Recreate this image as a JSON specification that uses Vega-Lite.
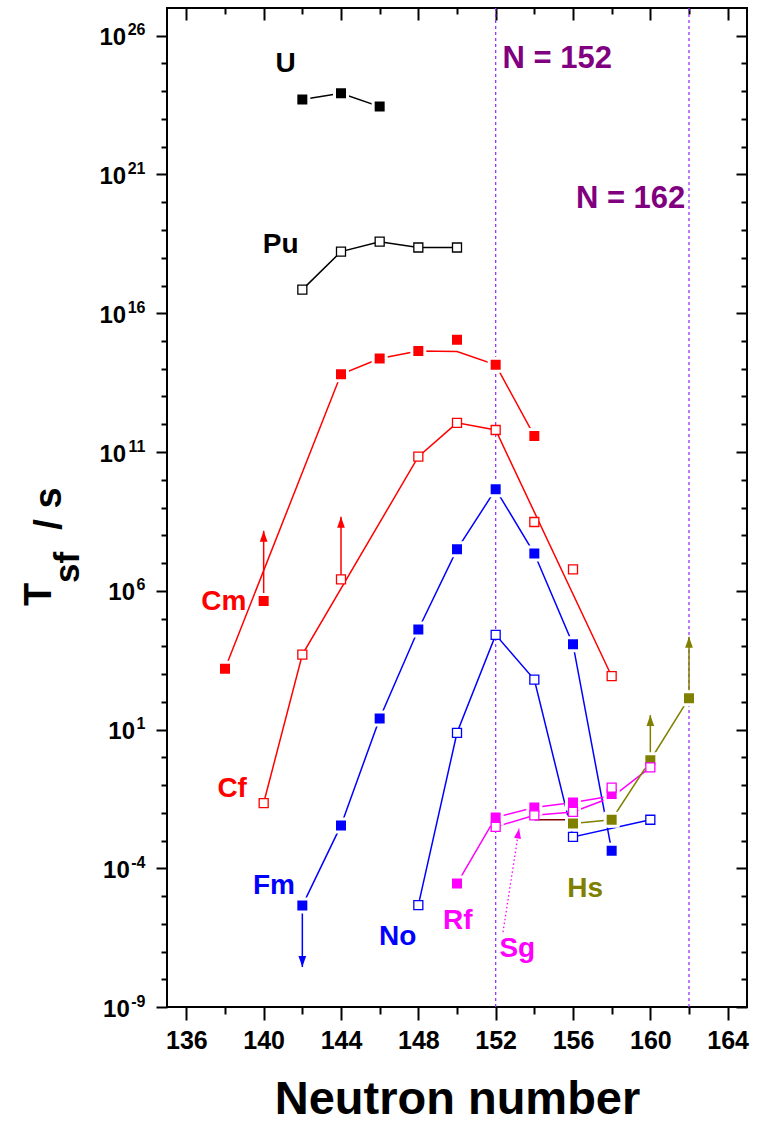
{
  "$schema": "https://vega.github.io/schema/vega-lite/v6.json",
  "width": 580,
  "height": 999,
  "autosize": {"type": "none"},
  "padding": {"left": 167, "top": 8, "right": 18, "bottom": 115},
  "background": "white",
  "datasets": {
    "vlines": [{"N": 152}, {"N": 162}],
    "lines": [
      {"el": "U", "N": 142, "T": 5.0e23}, {"el": "U", "N": 144, "T": 8.5e23}, {"el": "U", "N": 146, "T": 2.8e23},
      {"el": "Pu", "N": 142, "T": 7.1e16}, {"el": "Pu", "N": 144, "T": 1.66e18}, {"el": "Pu", "N": 146, "T": 3.8e18}, {"el": "Pu", "N": 148, "T": 2.34e18}, {"el": "Pu", "N": 150, "T": 2.34e18},
      {"el": "Cm", "N": 138, "T": 1.55e3}, {"el": "Cm", "N": 144, "T": 6.3e13}, {"el": "Cm", "N": 146, "T": 2.34e14}, {"el": "Cm", "N": 148, "T": 4.37e14}, {"el": "Cm", "N": 150, "T": 4.17e14}, {"el": "Cm", "N": 152, "T": 1.38e14}, {"el": "Cm", "N": 154, "T": 3.8e11},
      {"el": "Cf", "N": 140, "T": 0.0224}, {"el": "Cf", "N": 142, "T": 5.0e3}, {"el": "Cf", "N": 148, "T": 6.8e10}, {"el": "Cf", "N": 150, "T": 1.12e12}, {"el": "Cf", "N": 152, "T": 6.2e11}, {"el": "Cf", "N": 158, "T": 832},
      {"el": "Fm", "N": 142, "T": 4.5e-6}, {"el": "Fm", "N": 144, "T": 3.5e-3}, {"el": "Fm", "N": 146, "T": 25}, {"el": "Fm", "N": 148, "T": 4.0e4}, {"el": "Fm", "N": 150, "T": 3.1e7}, {"el": "Fm", "N": 152, "T": 4.5e9}, {"el": "Fm", "N": 154, "T": 2.2e7}, {"el": "Fm", "N": 156, "T": 1.17e4}, {"el": "Fm", "N": 158, "T": 4.3e-4},
      {"el": "No", "N": 148, "T": 4.7e-6}, {"el": "No", "N": 150, "T": 7.6}, {"el": "No", "N": 152, "T": 2.57e4}, {"el": "No", "N": 154, "T": 631}, {"el": "No", "N": 156, "T": 1.35e-3}, {"el": "No", "N": 160, "T": 5.6e-3},
      {"el": "Rf", "N": 150, "T": 2.8e-5}, {"el": "Rf", "N": 152, "T": 6.8e-3}, {"el": "Rf", "N": 154, "T": 0.0155}, {"el": "Rf", "N": 156, "T": 0.0234}, {"el": "Rf", "N": 158, "T": 0.040},
      {"el": "Sg", "N": 152, "T": 3.1e-3}, {"el": "Sg", "N": 154, "T": 8.1e-3}, {"el": "Sg", "N": 156, "T": 0.0107}, {"el": "Sg", "N": 158, "T": 0.036}, {"el": "Sg", "N": 160, "T": 0.43},
      {"el": "Hs", "N": 156, "T": 4.1e-3}, {"el": "Hs", "N": 158, "T": 5.6e-3}, {"el": "Hs", "N": 160, "T": 0.78}, {"el": "Hs", "N": 162, "T": 135},
      {"el": "other", "N": 154, "T": 5.6e-3}, {"el": "other", "N": 156, "T": 5.6e-3}
    ],
    "points": [
      {"el": "U", "N": 142, "T": 5.0e23}, {"el": "U", "N": 144, "T": 8.5e23}, {"el": "U", "N": 146, "T": 2.8e23},
      {"el": "Pu", "N": 142, "T": 7.1e16}, {"el": "Pu", "N": 144, "T": 1.66e18}, {"el": "Pu", "N": 146, "T": 3.8e18}, {"el": "Pu", "N": 148, "T": 2.34e18}, {"el": "Pu", "N": 150, "T": 2.34e18},
      {"el": "Cm", "N": 138, "T": 1.55e3}, {"el": "Cm", "N": 140, "T": 4.3e5}, {"el": "Cm", "N": 144, "T": 6.3e13}, {"el": "Cm", "N": 146, "T": 2.34e14}, {"el": "Cm", "N": 148, "T": 4.37e14}, {"el": "Cm", "N": 150, "T": 1.1e15}, {"el": "Cm", "N": 152, "T": 1.38e14}, {"el": "Cm", "N": 154, "T": 3.8e11},
      {"el": "Cf", "N": 140, "T": 0.0224}, {"el": "Cf", "N": 142, "T": 5.0e3}, {"el": "Cf", "N": 144, "T": 2.57e6}, {"el": "Cf", "N": 148, "T": 6.8e10}, {"el": "Cf", "N": 150, "T": 1.12e12}, {"el": "Cf", "N": 152, "T": 6.2e11}, {"el": "Cf", "N": 154, "T": 3.0e8}, {"el": "Cf", "N": 156, "T": 5.9e6}, {"el": "Cf", "N": 158, "T": 832},
      {"el": "Fm", "N": 142, "T": 4.5e-6}, {"el": "Fm", "N": 144, "T": 3.5e-3}, {"el": "Fm", "N": 146, "T": 25}, {"el": "Fm", "N": 148, "T": 4.0e4}, {"el": "Fm", "N": 150, "T": 3.1e7}, {"el": "Fm", "N": 152, "T": 4.5e9}, {"el": "Fm", "N": 154, "T": 2.2e7}, {"el": "Fm", "N": 156, "T": 1.17e4}, {"el": "Fm", "N": 158, "T": 4.3e-4},
      {"el": "No", "N": 148, "T": 4.7e-6}, {"el": "No", "N": 150, "T": 7.6}, {"el": "No", "N": 152, "T": 2.57e4}, {"el": "No", "N": 154, "T": 631}, {"el": "No", "N": 156, "T": 1.35e-3}, {"el": "No", "N": 160, "T": 5.6e-3},
      {"el": "Rf", "N": 150, "T": 2.8e-5}, {"el": "Rf", "N": 152, "T": 6.8e-3}, {"el": "Rf", "N": 154, "T": 0.0155}, {"el": "Rf", "N": 156, "T": 0.0234}, {"el": "Rf", "N": 158, "T": 0.047},
      {"el": "Sg", "N": 152, "T": 3.1e-3}, {"el": "Sg", "N": 154, "T": 8.1e-3}, {"el": "Sg", "N": 156, "T": 0.0107}, {"el": "Sg", "N": 158, "T": 0.081}, {"el": "Sg", "N": 160, "T": 0.43},
      {"el": "Hs", "N": 156, "T": 4.1e-3}, {"el": "Hs", "N": 158, "T": 5.6e-3}, {"el": "Hs", "N": 160, "T": 0.78}, {"el": "Hs", "N": 162, "T": 135}
    ],
    "arrows": [
      {"el": "Cm", "N": 140, "T": 4.3e5, "T2": 1.45e8},
      {"el": "Cf", "N": 144, "T": 2.57e6, "T2": 4.6e8},
      {"el": "Fm", "N": 142, "T": 4.5e-6, "T2": 2.75e-8},
      {"el": "Hs", "N": 160, "T": 0.78, "T2": 33},
      {"el": "Hs", "N": 162, "T": 135, "T2": 2.2e4}
    ],
    "labels": [
      {"el": "U", "label": "U", "N": 141.14, "T": 9.8e24},
      {"el": "Pu", "label": "Pu", "N": 140.88, "T": 2.9e18},
      {"el": "Cm", "label": "Cm", "N": 137.94, "T": 4.0e5},
      {"el": "Cf", "label": "Cf", "N": 138.37, "T": 0.069},
      {"el": "Fm", "label": "Fm", "N": 140.53, "T": 2.3e-5},
      {"el": "No", "label": "No", "N": 146.93, "T": 3.3e-7},
      {"el": "Rf", "label": "Rf", "N": 150.04, "T": 1.26e-6},
      {"el": "Sg", "label": "Sg", "N": 153.12, "T": 1.2e-7},
      {"el": "Hs", "label": "Hs", "N": 156.63, "T": 1.86e-5}
    ],
    "nlabels": [
      {"label": "N = 152", "N": 155.19, "T": 1.45e25},
      {"label": "N = 162", "N": 158.98, "T": 1.3e20}
    ],
    "pointer": [
      {"el": "Sg", "N": 152.38, "T": 5.0e-7, "N2": 153.21, "T2": 2.7e-3}
    ]
  },
  "resolve": {"axis": {"x": "independent", "y": "independent"}},
  "layer": [
    {
      "data": {"name": "vlines"},
      "mark": {"type": "rule", "color": "#9933ff", "strokeDash": [3, 3], "strokeWidth": 1.3},
      "encoding": {
        "x": {"field": "N", "type": "quantitative", "scale": {"domain": [135, 165], "nice": false, "zero": false},
          "axis": {"orient": "bottom", "values": [136, 140, 144, 148, 152, 156, 160, 164], "format": "d", "tickSize": 13, "labelFontSize": 25, "labelPadding": 8,
            "title": "Neutron number", "titleFontSize": 47, "titleX": 290, "titleY": 106, "titleAlign": "center", "titleBaseline": "alphabetic"}}
      }
    },
    {
      "data": {"name": "lines"},
      "mark": {"type": "line", "strokeWidth": 1.5},
      "encoding": {
        "x": {"field": "N", "type": "quantitative", "scale": {"domain": [135, 165], "nice": false, "zero": false},
          "axis": {"orient": "bottom", "values": [138, 142, 146, 150, 154, 158, 162], "tickSize": 7, "labels": false, "title": null}},
        "y": {"field": "T", "type": "quantitative", "scale": {"type": "log", "domain": [1e-9, 1e27], "nice": false},
          "axis": {"orient": "left", "values": [10, 1000000], "tickSize": 11, "labelExpr": "'10'", "labelFontSize": 24, "labelPadding": 21.5, "labelBaseline": "middle", "labelOffset": 2,
            "title": "T", "titleFontSize": 38, "titleAngle": 270, "titleX": -117, "titleY": 586, "titleAlign": "center", "titleBaseline": "alphabetic"}},
        "color": {"field": "el", "type": "nominal", "legend": null,
          "scale": {"domain": ["U", "Pu", "Cm", "Cf", "Fm", "No", "Rf", "Sg", "Hs", "other"], "range": ["#000000", "#000000", "#ff0000", "#ff0000", "#0000ff", "#0000ff", "#ff00ff", "#ff00ff", "#808000", "#800000"]}}
      }
    },
    {
      "data": {"name": "arrows"},
      "mark": {"type": "rule", "strokeWidth": 1.5},
      "encoding": {
        "x": {"field": "N", "type": "quantitative", "axis": null},
        "y": {"field": "T", "type": "quantitative", "scale": {"type": "log", "domain": [1e-9, 1e27], "nice": false},
          "axis": {"orient": "left", "values": [1e-9, 1e-4, 10, 1000000, 1e11, 1e16, 1e21, 1e26], "tickSize": 11, "tickOpacity": 0, "labelExpr": "'' + round(log(datum.value) / LN10)", "labelFontSize": 16, "labelPadding": 11, "labelAlign": "right", "labelBaseline": "middle", "labelOffset": -6,
            "title": "sf", "titleFontSize": 35, "titleAngle": 270, "titleX": -89, "titleY": 559, "titleAlign": "center", "titleBaseline": "alphabetic"}},
        "y2": {"field": "T2"},
        "color": {"field": "el", "type": "nominal", "legend": null}
      }
    },
    {
      "data": {"name": "points"},
      "transform": [{"filter": {"field": "el", "oneOf": ["U", "Cm", "Fm", "Rf", "Hs"]}}],
      "mark": {"type": "point", "shape": "square", "filled": true, "size": 169, "stroke": "white", "strokeWidth": 3, "opacity": 1},
      "encoding": {
        "x": {"field": "N", "type": "quantitative",
          "axis": {"orient": "top", "values": [136, 140, 144, 148, 152, 156, 160, 164], "tickSize": 12, "offset": -12, "labels": false, "title": null}},
        "y": {"field": "T", "type": "quantitative",
          "axis": {"orient": "left", "values": [1e11, 1e16, 1e21, 1e26], "tickSize": 11, "labelExpr": "'10'", "labelFontSize": 24, "labelPadding": 30.3, "labelBaseline": "middle", "labelOffset": 2, "title": null}},
        "color": {"field": "el", "type": "nominal", "legend": null}
      }
    },
    {
      "data": {"name": "points"},
      "transform": [{"filter": {"field": "el", "oneOf": ["Pu", "Cf", "No", "Sg"]}}],
      "mark": {"type": "point", "shape": "square", "filled": true, "fill": "white", "size": 81, "strokeWidth": 1.3, "opacity": 1},
      "encoding": {
        "x": {"field": "N", "type": "quantitative",
          "axis": {"orient": "top", "values": [138, 142, 146, 150, 154, 158, 162], "tickSize": 6, "offset": -6, "labels": false, "title": null}},
        "y": {"field": "T", "type": "quantitative",
          "axis": {"orient": "left", "values": [1e-9, 1e-4], "tickSize": 11, "labelExpr": "'10'", "labelFontSize": 24, "labelPadding": 26.7, "labelBaseline": "middle", "labelOffset": 2, "title": null}},
        "stroke": {"field": "el", "type": "nominal", "legend": null,
          "scale": {"domain": ["U", "Pu", "Cm", "Cf", "Fm", "No", "Rf", "Sg", "Hs", "other"], "range": ["#000000", "#000000", "#ff0000", "#ff0000", "#0000ff", "#0000ff", "#ff00ff", "#ff00ff", "#808000", "#800000"]}}
      }
    },
    {
      "data": {"name": "arrows"},
      "transform": [{"filter": "datum.T2 > datum.T"}],
      "mark": {"type": "point", "shape": "M0,0L-0.7,2L0.7,2Z", "filled": true, "size": 121, "opacity": 1, "strokeWidth": 0},
      "encoding": {
        "x": {"field": "N", "type": "quantitative", "axis": null},
        "y": {"field": "T2", "type": "quantitative",
          "axis": {"orient": "left", "values": [1e-8, 1e-7, 1e-6, 1e-5, 1e-3, 1e-2, 1e-1, 1, 100, 1000, 10000, 100000, 1e7, 1e8, 1e9, 1e10, 1e12, 1e13, 1e14, 1e15, 1e17, 1e18, 1e19, 1e20, 1e22, 1e23, 1e24, 1e25],
            "tickSize": 6, "labels": false,
            "title": "/ s", "titleFontSize": 38, "titleAngle": 270, "titleX": -107, "titleY": 500, "titleAlign": "center", "titleBaseline": "alphabetic"}},
        "color": {"field": "el", "type": "nominal", "legend": null}
      }
    },
    {
      "data": {"name": "arrows"},
      "transform": [{"filter": "datum.T2 < datum.T"}],
      "mark": {"type": "point", "shape": "M0,0L-0.7,-2L0.7,-2Z", "filled": true, "size": 121, "opacity": 1, "strokeWidth": 0},
      "encoding": {
        "x": {"field": "N", "type": "quantitative", "axis": null},
        "y": {"field": "T2", "type": "quantitative",
          "axis": {"orient": "right", "values": [1e-9, 1e-4, 10, 1000000, 1e11, 1e16, 1e21, 1e26], "tickSize": 11, "offset": -11, "labels": false, "title": null}},
        "color": {"field": "el", "type": "nominal", "legend": null}
      }
    },
    {
      "data": {"name": "labels"},
      "mark": {"type": "text", "font": "Liberation Sans", "fontWeight": "bold", "fontSize": 28, "align": "center", "baseline": "middle"},
      "encoding": {
        "x": {"field": "N", "type": "quantitative", "axis": null},
        "y": {"field": "T", "type": "quantitative",
          "axis": {"orient": "right", "values": [1e-8, 1e-7, 1e-6, 1e-5, 1e-3, 1e-2, 1e-1, 1, 100, 1000, 10000, 100000, 1e7, 1e8, 1e9, 1e10, 1e12, 1e13, 1e14, 1e15, 1e17, 1e18, 1e19, 1e20, 1e22, 1e23, 1e24, 1e25],
            "tickSize": 6, "offset": -6, "labels": false, "title": null}},
        "text": {"field": "label"},
        "color": {"field": "el", "type": "nominal", "legend": null}
      }
    },
    {
      "data": {"name": "nlabels"},
      "mark": {"type": "text", "font": "Liberation Sans", "fontWeight": "bold", "fontSize": 31, "align": "center", "baseline": "middle", "color": "#800080"},
      "encoding": {
        "x": {"field": "N", "type": "quantitative", "axis": null},
        "y": {"field": "T", "type": "quantitative", "axis": null},
        "text": {"field": "label"}
      }
    },
    {
      "data": {"name": "pointer"},
      "mark": {"type": "rule", "color": "#ff00ff", "strokeDash": [1.5, 2.5], "strokeWidth": 1.3},
      "encoding": {
        "x": {"field": "N", "type": "quantitative", "axis": null},
        "x2": {"field": "N2"},
        "y": {"field": "T", "type": "quantitative", "axis": null},
        "y2": {"field": "T2"}
      }
    },
    {
      "data": {"name": "pointer"},
      "mark": {"type": "point", "shape": "M0,0L-0.7,2L0.7,2Z", "filled": true, "size": 100, "opacity": 1, "strokeWidth": 0, "color": "#ff00ff", "angle": 9},
      "encoding": {
        "x": {"field": "N2", "type": "quantitative", "axis": null},
        "y": {"field": "T2", "type": "quantitative", "axis": null}
      }
    }
  ],
  "config": {
    "view": {"stroke": "#000000", "strokeWidth": 2},
    "axis": {"domain": false, "grid": false, "tickColor": "#000000", "tickWidth": 2, "labelFont": "Liberation Sans", "labelFontWeight": "bold", "labelColor": "#000000",
      "titleFont": "Liberation Sans", "titleFontWeight": "bold", "titleColor": "#000000", "labelFlush": false, "labelOverlap": false},
    "text": {"font": "Liberation Sans", "fontWeight": "bold"}
  }
}
